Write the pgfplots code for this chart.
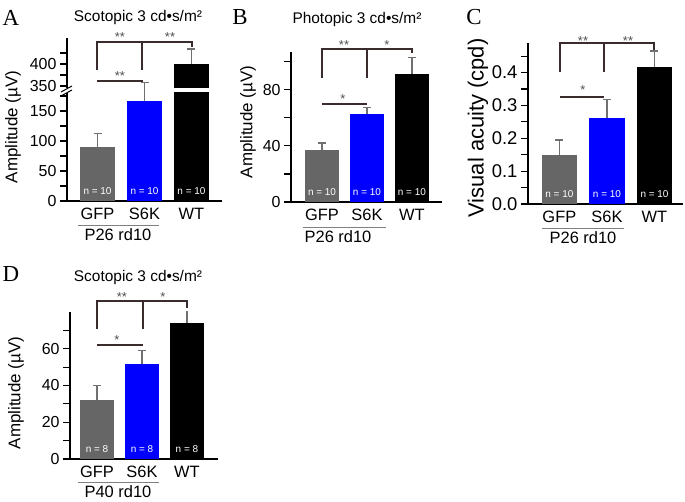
\documentclass[border=0pt]{standalone}
\usepackage{pgfplots}
\pgfplotsset{compat=1.18}
\usepackage{fontspec}
\setmainfont{Liberation Sans}
\newfontfamily\letterfont{Liberation Serif}
\definecolor{gfp}{HTML}{666666}
\definecolor{s6k}{HTML}{0000FF}
\definecolor{errc}{HTML}{707070}
\definecolor{brk}{HTML}{3A2C2C}
\definecolor{starc}{HTML}{505050}
\definecolor{ulc}{HTML}{808080}

\pgfplotsset{
  panel/.style={
    scale only axis, ybar, bar shift=0pt,
    axis x line*=bottom, axis y line*=left,
    axis line style={-, line width=1.3bp, black},
    xtick={0,1,2}, xticklabels={GFP,S6K,WT},
    major x tick style={draw=none},
    y tick style={line width=1.1bp, black},
    tick align=outside, major tick length=7bp, minor tick length=7bp,
    tick label style={font=\fontsize{16}{16}\selectfont},
    xticklabel style={font=\fontsize{16.5}{16.5}\selectfont, yshift=3bp},
    /pgf/number format/assume math mode=true,
    enlargelimits=false,
    error bars/y dir=plus, error bars/y explicit,
    error bars/error bar style={draw=errc, line width=1.3bp},
    error bars/error mark options={draw=errc, line width=1.3bp, rotate=90, mark size=4bp},
  },
}
\tikzset{nlab/.style={font=\fontsize{10}{10}\selectfont, text=white}}

\begin{document}
\begin{tikzpicture}[x=1bp,y=1bp]
\useasboundingbox (0,0) rectangle (685,502);

% ================= Panel A (broken axis) =================
% lower segment
\begin{axis}[panel, at={(67bp,301bp)}, anchor=south west, width=155bp, height=108bp,
  xmin=-0.65, xmax=2.65, ymin=0, ymax=180, bar width=0.745,
  ytick={0,50,100,150}, minor ytick={25,75,125,175}]
\addplot[fill=gfp, draw=none] coordinates {(0,90) +- (0,22)};
\addplot[fill=s6k, draw=none, forget plot] coordinates {(1,167)};
\addplot[fill=black, draw=none, forget plot] coordinates {(2,400)};
\node[nlab] at (axis cs:0,16) {n = 10};
\node[nlab] at (axis cs:1,16) {n = 10};
\node[nlab] at (axis cs:2,16) {n = 10};
\end{axis}
% overlay: S6K error bar crossing the break
\begin{axis}[panel, at={(67bp,301bp)}, anchor=south west, width=155bp, height=108bp,
  xmin=-0.65, xmax=2.65, ymin=0, ymax=180, bar width=0.745, clip=false,
  hide axis]
\addplot[fill=none, draw=none] coordinates {(1,167) +- (0,30)};
\end{axis}
% upper segment
\begin{axis}[panel, at={(67bp,414bp)}, anchor=south west, width=155bp, height=50bp,
  xmin=-0.65, xmax=2.65, ymin=345.5, ymax=459, bar width=0.745,
  axis x line=none,
  ytick={350,400}, minor ytick={375,425}]
\addplot[fill=black, draw=none] coordinates {(2,400) +- (0,34)};
\end{axis}

% ================= Panel B =================
\begin{axis}[panel, at={(291bp,300bp)}, anchor=south west, width=151bp, height=150bp,
  xmin=-0.69, xmax=2.67, ymin=0, ymax=107, bar width=0.755,
  ytick={0,40,80}, minor ytick={20,60,100}]
\addplot[fill=gfp, draw=none] coordinates {(0,37) +- (0,5)};
\addplot[fill=s6k, draw=none] coordinates {(1,63) +- (0,4.5)};
\addplot[fill=black, draw=none] coordinates {(2,91) +- (0,12)};
\node[nlab] at (axis cs:0,7) {n = 10};
\node[nlab] at (axis cs:1,7) {n = 10};
\node[nlab] at (axis cs:2,7) {n = 10};
\end{axis}

% ================= Panel C =================
\begin{axis}[panel, at={(528bp,298bp)}, anchor=south west, width=155bp, height=161bp,
  xmin=-0.66, xmax=2.6, ymin=0, ymax=0.49, bar width=0.74,
  ytick={0,0.1,0.2,0.3,0.4}, minor ytick={0.05,0.15,0.25,0.35,0.45},
  yticklabel style={font=\fontsize{18.5}{18.5}\selectfont,
    /pgf/number format/.cd, fixed, fixed zerofill, precision=1}]
\addplot[fill=gfp, draw=none] coordinates {(0,0.149) +- (0,0.046)};
\addplot[fill=s6k, draw=none] coordinates {(1,0.262) +- (0,0.055)};
\addplot[fill=black, draw=none] coordinates {(2,0.418) +- (0,0.048)};
\node[nlab] at (axis cs:0,0.03) {n = 10};
\node[nlab] at (axis cs:1,0.03) {n = 10};
\node[nlab] at (axis cs:2,0.03) {n = 10};
\end{axis}

% ================= Panel D =================
\begin{axis}[panel, at={(70bp,43bp)}, anchor=south west, width=148bp, height=147bp,
  xmin=-0.6, xmax=2.69, ymin=0, ymax=80, bar width=0.755,
  ytick={0,20,40,60}, minor ytick={10,30,50,70}]
\addplot[fill=gfp, draw=none] coordinates {(0,32) +- (0,8)};
\addplot[fill=s6k, draw=none] coordinates {(1,51.5) +- (0,7.5)};
\addplot[fill=black, draw=none] coordinates {(2,74) +- (0,7)};
\node[nlab] at (axis cs:0,5.5) {n = 8};
\node[nlab] at (axis cs:1,5.5) {n = 8};
\node[nlab] at (axis cs:2,5.5) {n = 8};
\end{axis}

% ================= Annotations (image coordinates, y down) =================
\begin{scope}[shift={(0,502)}, yscale=-1]
  % panel letters
  \node[font=\letterfont\fontsize{23}{23}\selectfont] at (11,18) {A};
  \node[font=\letterfont\fontsize{23}{23}\selectfont] at (240,17) {B};
  \node[font=\letterfont\fontsize{23}{23}\selectfont] at (474,17) {C};
  \node[font=\letterfont\fontsize{23}{23}\selectfont] at (11,274) {D};
  % titles
  \node[font=\fontsize{15.5}{15.5}\selectfont] at (138,18) {Scotopic 3 cd•s/m²};
  \node[font=\fontsize{15.5}{15.5}\selectfont] at (357,20) {Photopic 3 cd•s/m²};
  \node[font=\fontsize{15.5}{15.5}\selectfont] at (138,278) {Scotopic 3 cd•s/m²};
  % y labels
  \node[rotate=90, font=\fontsize{17}{17}\selectfont] at (13,127) {Amplitude (µV)};
  \node[rotate=90, font=\fontsize{17}{17}\selectfont] at (248,122) {Amplitude (µV)};
  \node[rotate=90, font=\fontsize{22}{22}\selectfont] at (478,128) {Visual acuity (cpd)};
  \node[rotate=90, font=\fontsize{17}{17}\selectfont] at (16,393) {Amplitude (µV)};
  % group underline and labels
  \draw[ulc, line width=0.8bp] (78,225) -- (159,225);
  \node[font=\fontsize{16.5}{16.5}\selectfont] at (118,235) {P26 rd10};
  \draw[ulc, line width=0.8bp] (303,227) -- (386,227);
  \node[font=\fontsize{16.5}{16.5}\selectfont] at (338,237) {P26 rd10};
  \draw[ulc, line width=0.8bp] (542,228) -- (624,228);
  \node[font=\fontsize{16.5}{16.5}\selectfont] at (583,238) {P26 rd10};
  \draw[ulc, line width=0.8bp] (78,482) -- (159,482);
  \node[font=\fontsize{16.5}{16.5}\selectfont] at (118,492) {P40 rd10};
  % axis break marks (panel A)
  \draw[black, line width=1bp] (61,92) -- (72,86);
  \draw[black, line width=1bp] (61,96) -- (72,90);
  % significance brackets
  \begin{scope}[brk, line width=2bp]
    % A
    \draw (97,70) -- (97,42) -- (192,42) -- (192,47);
    \draw (142,42) -- (142,70);
    \draw (97,81) -- (143,81);
    % B
    \draw (322,78) -- (322,49) -- (412,49) -- (412,53);
    \draw (367,49) -- (367,78);
    \draw (322,104) -- (367,104);
    % C
    \draw (560,72) -- (560,43) -- (654,43) -- (654,50);
    \draw (604,43) -- (604,72);
    \draw (560,97) -- (604,97);
    % D
    \draw (97,329) -- (97,301) -- (187,301) -- (187,308);
    \draw (143,301) -- (143,329);
    \draw (97,345) -- (143,345);
  \end{scope}
  \begin{scope}[every node/.style={font=\fontsize{13}{13}\selectfont, text=starc}]
    \node at (120,37) {**}; \node at (170,37) {**}; \node at (120,76) {**};
    \node at (344,45) {**}; \node at (387,45) {*}; \node at (343,99) {*};
    \node at (583,41) {**}; \node at (628,41) {**}; \node at (583,90) {*};
    \node at (122,297) {**}; \node at (163,297) {*}; \node at (117,340) {*};
  \end{scope}
\end{scope}
\end{tikzpicture}
\end{document}
